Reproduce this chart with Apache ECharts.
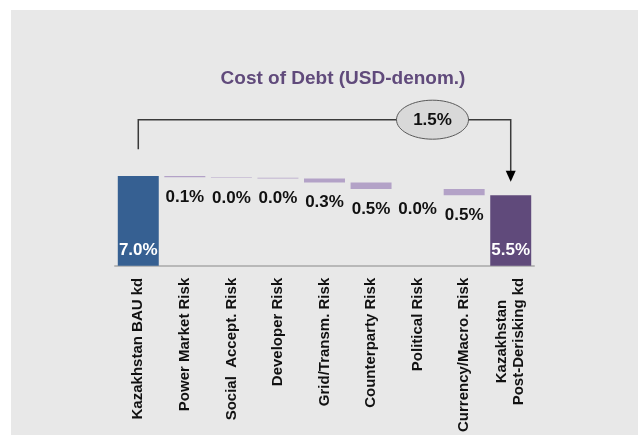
<!DOCTYPE html>
<html>
<head>
<meta charset="utf-8">
<title>Cost of Debt (USD-denom.)</title>
<script src="https://cdn.jsdelivr.net/npm/echarts@6.0.0/dist/echarts.min.js"></script>
<style>
  html, body { margin: 0; padding: 0; background: #ffffff; }
  .chart-container {
    position: absolute;
    left: 11px;
    top: 10px;
    width: 627px;
    height: 425px;
  }
</style>
</head>
<body>
<div id="chart" class="chart-container"></div>
<script>
const categories = [
  'Kazakhstan BAU kd',
  'Power Market Risk',
  'Social  Accept. Risk',
  'Developer Risk',
  'Grid/Transm. Risk',
  'Counterparty Risk',
  'Political Risk',
  'Currency/Macro. Risk',
  'Kazakhstan\nPost-Derisking kd'
]
const startValue = 7.0
// reduction from each derisking step (%)
const reductions = [0.1, 0.04, 0.04, 0.32, 0.5, 0.0, 0.5]

const fontFamily = '"Liberation Sans", Arial, sans-serif'

const endValue = +(startValue - reductions.reduce((a, b) => a + b, 0)).toFixed(2)
const totalDrop = startValue - endValue

// build waterfall stacks: invisible base + visible step + totals
const baseData = [0]
const stepData = ['-']
const totalData = [{ value: startValue, itemStyle: { color: '#366092' } }]
let level = startValue
reductions.forEach((r) => {
  level = +(level - r).toFixed(2)
  baseData.push({
    value: level,
    label: { show: true, formatter: r.toFixed(1) + '%' }
  })
  stepData.push(r)
  totalData.push('-')
})
baseData.push(0)
stepData.push('-')
totalData.push({ value: endValue, itemStyle: { color: '#604a7b' } })

const chart = echarts.init(document.getElementById('chart'))

const option = {
  backgroundColor: '#e8e8e8',
  animation: false,
  title: {
    text: 'Cost of Debt (USD-denom.)',
    left: 327,
    top: 54,
    textAlign: 'center',
    textStyle: {
      color: '#604a7b',
      fontSize: 19,
      fontWeight: 'bold',
      fontFamily: fontFamily
    }
  },
  grid: {
    left: 104,
    right: 104,
    top: 102,
    bottom: 169
  },
  xAxis: {
    type: 'category',
    data: categories,
    axisTick: { show: false },
    axisLine: { lineStyle: { color: '#b8b8b8', width: 2 } },
    axisLabel: {
      interval: 0,
      rotate: 90,
      margin: 12,
      color: '#111',
      fontSize: 15,
      fontWeight: 'bold',
      fontFamily: fontFamily,
      formatter: (v) => {
        if (v.indexOf('\n') < 0) return v
        return v.split('\n').map((s) => '{c|' + s + '}').join('\n')
      },
      rich: {
        c: {
          align: 'center',
          fontSize: 15,
          fontWeight: 'bold',
          fontFamily: fontFamily,
          color: '#111',
          lineHeight: 17
        }
      }
    }
  },
  yAxis: {
    type: 'value',
    min: 0,
    max: 12,
    show: false,
    splitLine: { show: false }
  },
  series: [
    {
      type: 'bar',
      stack: 'wf',
      barCategoryGap: '12%',
      data: baseData,
      itemStyle: { color: 'transparent' },
      label: {
        show: false,
        position: 'insideTop',
        distance: 11,
        color: '#111',
        fontSize: 17,
        fontWeight: 'bold',
        lineHeight: 18,
        fontFamily: fontFamily
      },
      emphasis: { disabled: true },
      silent: true
    },
    {
      type: 'bar',
      stack: 'wf',
      data: stepData,
      itemStyle: { color: '#b3a2c7' }
    },
    {
      type: 'bar',
      stack: 'wf',
      data: totalData,
      label: {
        show: true,
        position: 'insideBottom',
        distance: 6,
        color: '#ffffff',
        fontSize: 17,
        fontWeight: 'bold',
        lineHeight: 18,
        fontFamily: fontFamily,
        formatter: (p) => p.value.toFixed(1) + '%'
      }
    }
  ]
}
chart.setOption(option)

// bracket with the total reduction, placed through the axes
function drawBracket() {
  const last = categories.length - 1
  const bracketTop = 11.4
  const leftEnd = 9.1
  const arrowTip = endValue + 1.05
  const toPx = (i, v) => chart.convertToPixel({ gridIndex: 0 }, [i, v])
  const a = toPx(0, leftEnd)
  const b = toPx(0, bracketTop)
  const c = toPx(last, bracketTop)
  const d = toPx(last, arrowTip)
  const cx = b[0] + (c[0] - b[0]) * 0.79
  chart.setOption({
    graphic: [
      {
        type: 'polyline',
        z: 10,
        shape: { points: [a, b, c, [d[0], d[1] - 10]] },
        style: { stroke: '#3a3a3a', lineWidth: 1.5, fill: null }
      },
      {
        type: 'polygon',
        z: 10,
        shape: { points: [[d[0] - 5, d[1] - 11], [d[0] + 5, d[1] - 11], [d[0], d[1]]] },
        style: { fill: '#000' }
      },
      {
        type: 'ellipse',
        z: 11,
        shape: { cx: cx, cy: b[1], rx: 36, ry: 19.5 },
        style: { fill: '#d9d9d9', stroke: '#595959', lineWidth: 1 }
      },
      {
        type: 'text',
        z: 12,
        x: cx,
        y: b[1] + 1,
        style: {
          text: totalDrop.toFixed(1) + '%',
          align: 'center',
          verticalAlign: 'middle',
          fill: '#111',
          font: 'bold 17px ' + fontFamily
        }
      }
    ]
  })
}
drawBracket()
</script>
</body>
</html>
